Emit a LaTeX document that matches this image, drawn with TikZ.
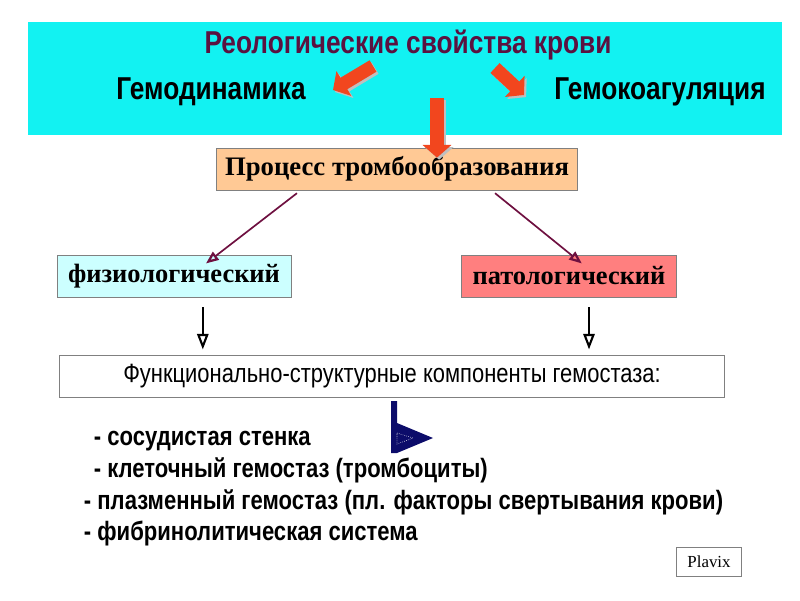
\documentclass[tikz,border=0pt]{standalone}
\usepackage{fontspec}
\setmainfont{Liberation Serif}
\setsansfont{Liberation Sans}
\newfontfamily\condsans[FakeStretch=0.83]{Liberation Sans}
\usetikzlibrary{arrows.meta}

\definecolor{bandcyan}{HTML}{12F2F2}
\definecolor{titlemaroon}{HTML}{5A1240}
\definecolor{peach}{HTML}{FFC995}
\definecolor{palecyan}{HTML}{CCFFFF}
\definecolor{rosered}{HTML}{FF7F7F}
\definecolor{firered}{HTML}{F2461E}
\definecolor{arrmaroon}{HTML}{6E1040}
\definecolor{deepnavy}{HTML}{0C0C6A}

\begin{document}
\begin{tikzpicture}[x=0.025cm,y=-0.025cm]
\useasboundingbox (0,0) rectangle (800,600);

\tikzset{
    stagebox/.style={draw=gray,thin,inner sep=0pt,minimum height=30pt},
    bigsans/.style={font=\condsans\bfseries\fontsize{22.5}{26}\selectfont},
    fatarrow/.style={firered,line width=9.5pt,-{Triangle[length=9pt,width=20pt]}},
    shadearrow/.style={black!25,line width=9.5pt,-{Triangle[length=9pt,width=20pt]},
        transform canvas={shift={(1.5pt,-1.5pt)}}},
    thinarrow/.style={arrmaroon,line width=1.2pt,-{Triangle[open,length=9pt,width=7pt,line width=1.6pt]}},
    downarrow/.style={black,line width=1.2pt,-{Triangle[open,length=11pt,width=8pt,line width=1.5pt]}},
    listline/.style={anchor=west,font=\condsans\bfseries\fontsize{18.9}{22}\selectfont}
}

% upper band
\fill[bandcyan] (28,22) rectangle (782,135);
\node[bigsans,text=titlemaroon] (title) at (408,45) {Реологические свойства крови};
\node[bigsans] (hemodyn) at (211,92) {Гемодинамика};
\node[bigsans] (hemocoag) at (660,92) {Гемокоагуляция};

\coordinate (ltail) at (373,66);
\coordinate (lhead) at (333,90);
\coordinate (rtail) at (495,68);
\coordinate (rhead) at (524,95);
\coordinate (dtail) at (437,98);

% boxes
\node[stagebox,fill=peach,minimum width=361*0.025cm,
      font=\bfseries\fontsize{19}{22}\selectfont] (process) at (397,169) {Процесс тромбообразования};
\node[stagebox,fill=palecyan,minimum width=234*0.025cm,
      font=\bfseries\fontsize{18.8}{22}\selectfont] (physio) at (174,276) {физиологический};
\node[stagebox,fill=rosered,minimum width=215*0.025cm,
      font=\bfseries\fontsize{18.8}{22}\selectfont] (patho) at (569,276) {патологический};
\node[stagebox,fill=white,minimum width=665*0.025cm,
      font=\condsans\fontsize{18.8}{22}\selectfont] (comps) at (392,376) {Функционально-структурные компоненты гемостаза:};

% red arrows
\draw[shadearrow] (ltail) -- (lhead);
\draw[shadearrow] (rtail) -- (rhead);
\draw[shadearrow] (dtail) -- ([yshift=-0.25cm]process.north -| dtail);
\draw[fatarrow] (ltail) -- (lhead);
\draw[fatarrow] (rtail) -- (rhead);
\draw[fatarrow] (dtail) -- ([yshift=-0.25cm]process.north -| dtail);

% maroon arrows
\draw[thinarrow] ([xshift=-2.5cm,yshift=-0.07cm]process.south) -- ([xshift=0.8cm,yshift=-0.22cm]physio.north);
\draw[thinarrow] ([xshift=2.45cm,yshift=-0.07cm]process.south) -- ([xshift=0.32cm,yshift=-0.22cm]patho.north);

% black arrows
\draw[downarrow] ([xshift=0.72cm,yshift=-0.25cm]physio.south) -- ([xshift=0.72cm,yshift=0.13cm]physio.south |- comps.north);
\draw[downarrow] ([xshift=0.5cm,yshift=-0.25cm]patho.south) -- ([xshift=0.5cm,yshift=0.13cm]patho.south |- comps.north);

% list
\node[listline] (item1) at (89,441) {- сосудистая стенка};
\node[listline] (item2) at (89,470) {- клеточный гемостаз (тромбоциты)};
\node[listline] (item3) at (79,502) {- плазменный гемостаз (пл. факторы свертывания крови)};
\node[listline] (item4) at (79,533) {- фибринолитическая система};

% navy bent arrow
\coordinate (navytop) at (391,401);
\fill[deepnavy] (navytop) -- ++(6,0) -- ++(0,22) -- ++(36,15) -- ++(-36,15) -- ++(-6,0) -- cycle;
\draw[white,densely dotted,thin] ([shift={(6,32)}]navytop) -- ++(16,5) -- ++(-16,6) -- cycle;

\node[draw=gray,fill=white,inner sep=0pt,minimum width=65*0.025cm,minimum height=29*0.025cm,
      font=\fontsize{12}{14}\selectfont] (plavix) at (709,562) {Plavix};
\end{tikzpicture}
\end{document}
